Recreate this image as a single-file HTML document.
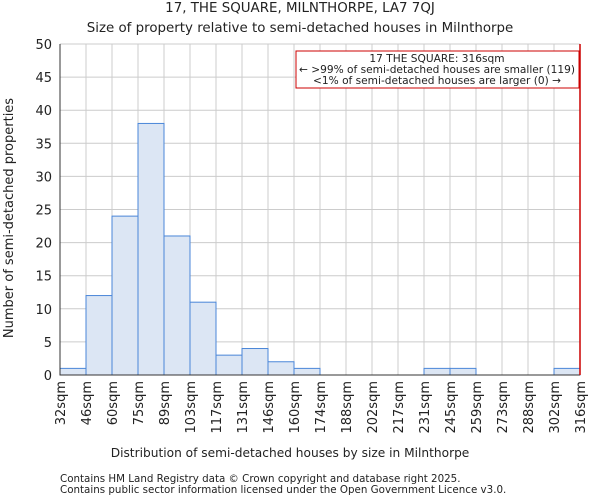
<!DOCTYPE html>
<html><head><meta charset="utf-8"><style>
body{margin:0;background:#fff;font-family:"DejaVu Sans","Liberation Sans",sans-serif;}
svg text{font-family:"DejaVu Sans","Liberation Sans",sans-serif;fill:#222;}
</style></head><body>
<svg id="c" width="600" height="500" xmlns="http://www.w3.org/2000/svg">
<text x="300" y="12" text-anchor="middle" font-size="13.4">17, THE SQUARE, MILNTHORPE, LA7 7QJ</text>
<text x="300" y="32" text-anchor="middle" font-size="13.4">Size of property relative to semi-detached houses in Milnthorpe</text>
<g id="grid"></g><g id="bars"></g><g id="axes"></g>
<text x="290" y="457" text-anchor="middle" font-size="12.2">Distribution of semi-detached houses by size in Milnthorpe</text>
<text transform="translate(13,218) rotate(-90)" text-anchor="middle" font-size="13">Number of semi-detached properties</text>
<text x="60" y="482" font-size="10.3">Contains HM Land Registry data © Crown copyright and database right 2025.</text>
<text x="60" y="493" font-size="10.3">Contains public sector information licensed under the Open Government Licence v3.0.</text>
</svg>
<script>
const binLabels=["32sqm","46sqm","60sqm","75sqm","89sqm","103sqm","117sqm","131sqm","146sqm","160sqm","174sqm","188sqm","202sqm","217sqm","231sqm","245sqm","259sqm","273sqm","288sqm","302sqm","316sqm"];
const counts=[1,12,24,38,21,11,3,4,2,1,0,0,0,0,1,1,0,0,0,1];
const yTicks=[0,5,10,15,20,25,30,35,40,45,50];
const markerIndex=20;
const annotation=["17 THE SQUARE: 316sqm","← >99% of semi-detached houses are smaller (119)","<1% of semi-detached houses are larger (0) →"];
const NS="http://www.w3.org/2000/svg";
const L=60,R=580,T=44,B=375,yMax=50;
const n=binLabels.length-1,bw=(R-L)/n;
const xs=i=>L+i*bw, ys=v=>B-(v/yMax)*(B-T);
function mk(tag,attrs,parent){const e=document.createElementNS(NS,tag);for(const k in attrs)e.setAttribute(k,attrs[k]);document.getElementById(parent).appendChild(e);return e;}
yTicks.forEach(v=>{
 const g=mk('line',{x1:L,x2:R,y1:ys(v),y2:ys(v),stroke:'#ccc','stroke-width':1},'grid');
 
 
 const t=mk('text',{x:L-8,y:ys(v)+5,'text-anchor':'end','font-size':13},'axes');
 t.textContent=v;
 
 
});
binLabels.forEach((lab,i)=>{
 const g=mk('line',{x1:xs(i),x2:xs(i),y1:T,y2:B,stroke:'#ccc','stroke-width':1},'grid');
 
 
 const x=xs(i)+5,y=B+6;
 const t=mk('text',{x:x,y:y,'text-anchor':'end','font-size':13,transform:`rotate(-90 ${x} ${y})`},'axes');
 t.textContent=lab;
 
 
});
counts.forEach((c,i)=>{
 if(c<=0)return;
 const r=mk('rect',{x:xs(i),y:ys(c),width:bw,height:B-ys(c),fill:'#dce6f4',stroke:'#4a86d8','stroke-width':1},'bars');
 
 
});
const ax=mk('path',{d:`M${L},${T}V${B}H${R}`,fill:'none',stroke:'#333','stroke-width':1},'axes');


const ml=mk('line',{x1:xs(markerIndex),x2:xs(markerIndex),y1:T,y2:B,stroke:'#cc0000','stroke-width':1.5},'axes');


const bx=mk('rect',{x:296,y:51,width:283,height:37,fill:'#fff',stroke:'#cc0000','stroke-width':1},'axes');


annotation.forEach((s,i)=>{
 const t=mk('text',{x:437,y:62+i*11,'text-anchor':'middle','font-size':10.6},'axes');
 t.textContent=s;
 
 
});
</script>
</body></html>
